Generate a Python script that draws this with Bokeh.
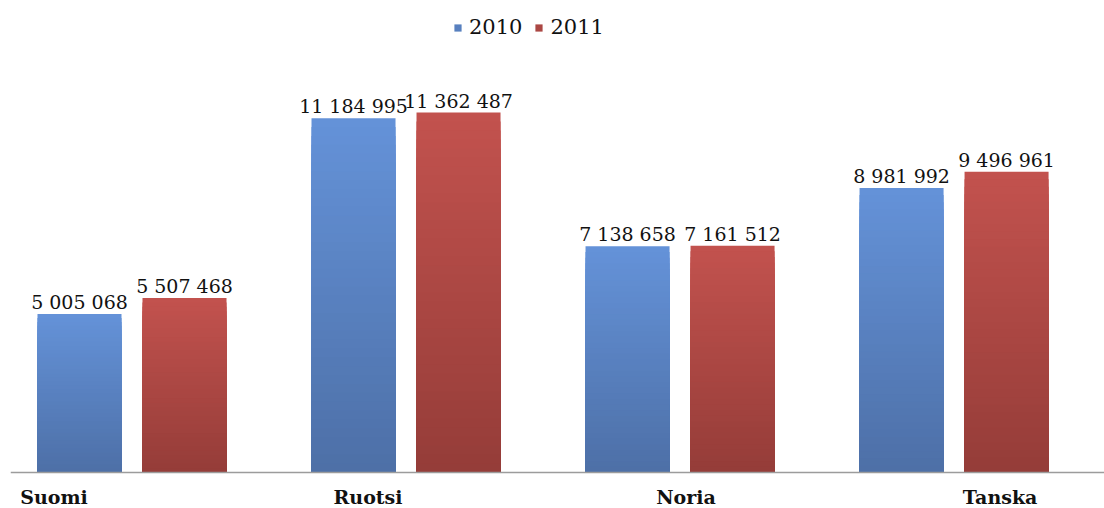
import numpy as np
from bokeh.plotting import figure
from bokeh.models import Range1d, Span, Legend, LegendItem, ColumnDataSource
from bokeh.core.properties import value
from bokeh.embed import file_html
from bokeh.resources import INLINE

# ---- data ----
categories = ["Suomi", "Ruotsi", "Noria", "Tanska"]
years = ["2010", "2011"]
values_2010 = [5005068, 11184995, 7138658, 8981992]
values_2011 = [5507468, 11362487, 7161512, 9496961]

# ---- style ----
FONT = "DejaVu Serif"
series_style = {
    "2010": {"offset": -0.1916, "top": (100, 146, 216), "bottom": (77, 111, 166)},
    "2011": {"offset": 0.1916, "top": (194, 82, 78), "bottom": (148, 60, 56)},
}
BAR_W = 0.3066
N_STEPS = 40
label_offsets_px = [-78, -38, 6, 46]

p = figure(width=1104, height=508,
           x_range=Range1d(-0.4434, 3.549), y_range=Range1d(-1.136e6, 14.9e6),
           output_backend="svg", toolbar_location=None,
           x_axis_location=None, y_axis_location=None,
           min_border_left=10, min_border_right=0, min_border_top=0, min_border_bottom=0)
p.grid.visible = False
p.outline_line_color = None
p.background_fill_color = "white"
p.border_fill_color = "white"

def to_hex(c):
    return "#%02x%02x%02x" % tuple(int(round(v)) for v in c)

renderers = {}
for year, vals in zip(years, [values_2010, values_2011]):
    st = series_style[year]
    xs = np.arange(len(categories)) + st["offset"]
    left, right, top, bottom, colors = [], [], [], [], []
    # overlapping gradient: tallest (lightest) first, shorter darker layers on top
    for k in range(N_STEPS, 0, -1):
        frac = k / N_STEPS
        c = tuple(st["bottom"][i] + (st["top"][i] - st["bottom"][i]) * frac for i in range(3))
        for x, v in zip(xs, vals):
            left.append(x - BAR_W / 2)
            right.append(x + BAR_W / 2)
            top.append(v * frac)
            bottom.append(0)
            colors.append(to_hex(c))
    src = ColumnDataSource(dict(left=left, right=right, top=top, bottom=bottom, color=colors))
    r = p.quad(left="left", right="right", top="top", bottom="bottom", source=src,
               fill_color="color", line_color=None)
    renderers[year] = (r, len(categories) * (N_STEPS // 2))

    # value labels
    lbl_src = ColumnDataSource(dict(x=list(xs), y=vals,
                                    t=[f"{v:,}".replace(",", " ") for v in vals]))
    p.text(x="x", y="y", text="t", source=lbl_src, text_align="center",
           text_baseline="alphabetic", y_offset=-12,
           text_font=value(FONT), text_font_size="19px", text_color="#111111")

# axis line
p.add_layout(Span(location=0, dimension="width", line_color="#9c9c9c", line_width=1.5))

# category labels
cat_src = ColumnDataSource(dict(x=list(np.arange(len(categories))), y=[0] * len(categories),
                                t=categories, xo=label_offsets_px))
p.text(x="x", y="y", text="t", source=cat_src, x_offset="xo", y_offset=24,
       text_align="center", text_baseline="alphabetic",
       text_font=value(FONT), text_font_size="19px", text_font_style="bold",
       text_color="#111111")

legend = Legend(items=[LegendItem(label=y, renderers=[renderers[y][0]], index=renderers[y][1])
                       for y in years],
                orientation="horizontal", location=(443, 469),
                padding=0, margin=0, spacing=12, label_standoff=7,
                glyph_width=9, glyph_height=9,
                border_line_alpha=0, background_fill_alpha=0,
                label_text_font=FONT, label_text_font_size="21px",
                label_text_color="#111111")
p.add_layout(legend)

open("out.html", "w").write(file_html(p, INLINE))
